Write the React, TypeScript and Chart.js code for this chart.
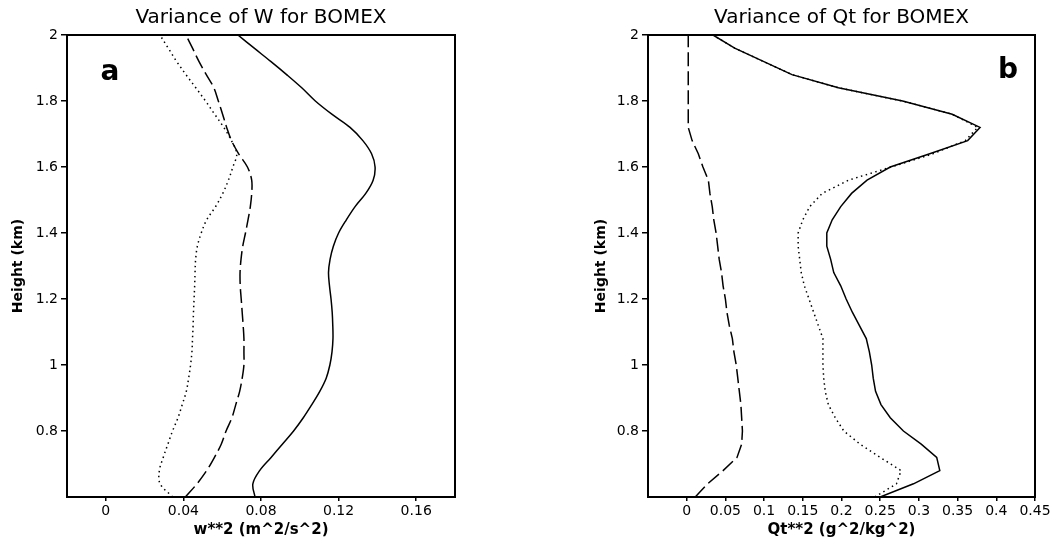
import React, { useEffect, useRef } from "react";
import { Chart, registerables } from "chart.js";

Chart.register(...registerables);

// Heights (km) shared by every profile
const heights = [
  0.6, 0.64, 0.68, 0.72, 0.76, 0.8, 0.84, 0.88, 0.92, 0.96, 1.0, 1.04, 1.08, 1.12, 1.16, 1.2, 1.24, 1.28,
  1.32, 1.36, 1.4, 1.44, 1.48, 1.52, 1.56, 1.6, 1.64, 1.68, 1.72, 1.76, 1.8, 1.84, 1.88, 1.92, 1.96, 2.0,
];

// Panel a: variance of W (m^2/s^2)
const wSolid = [
  0.0769, 0.0758, 0.0793, 0.0852, 0.091, 0.0968, 0.1018, 0.1062, 0.1103, 0.1136, 0.1155, 0.1166, 0.1171,
  0.117, 0.1167, 0.1161, 0.1153, 0.1148, 0.1156, 0.1173, 0.12, 0.124, 0.1285, 0.134, 0.1378, 0.1388, 0.137,
  0.1325, 0.1259, 0.1165, 0.108, 0.101, 0.0932, 0.085, 0.0765, 0.0681,
];
const wDashed = [
  0.041, 0.047, 0.052, 0.056, 0.0595, 0.062, 0.065, 0.067, 0.069, 0.0703, 0.0712, 0.0712, 0.0712, 0.0708,
  0.0703, 0.0698, 0.0693, 0.0692, 0.0697, 0.0706, 0.072, 0.0733, 0.0745, 0.0752, 0.0752, 0.073, 0.0685,
  0.0648, 0.0623, 0.0602, 0.058, 0.0557, 0.0518, 0.048, 0.0447, 0.0413,
];
const wDotted = [
  0.0345, 0.028, 0.0276, 0.0296, 0.032, 0.0344, 0.0372, 0.0394, 0.0415, 0.0427, 0.0437, 0.0444, 0.0447,
  0.045, 0.0452, 0.0455, 0.0458, 0.046, 0.0463, 0.0472, 0.0492, 0.052, 0.0566, 0.0603, 0.0632, 0.0655,
  0.0675, 0.0648, 0.0608, 0.0561, 0.0514, 0.0464, 0.0413, 0.0365, 0.0322, 0.0279,
];

// Panel b: variance of Qt (g^2/kg^2)
const qSolid = [
  0.25, 0.293, 0.327, 0.323, 0.303, 0.28, 0.263, 0.251, 0.244, 0.241, 0.239, 0.236, 0.232, 0.223, 0.214,
  0.206, 0.199, 0.19, 0.186, 0.181, 0.181, 0.188, 0.199, 0.213, 0.233, 0.263, 0.314, 0.363, 0.379, 0.343,
  0.279, 0.196, 0.136, 0.099, 0.062, 0.034,
];
const qDashed = [
  0.011, 0.027, 0.047, 0.065, 0.071, 0.072, 0.071, 0.07, 0.068, 0.066, 0.064, 0.061, 0.059, 0.055, 0.052,
  0.05, 0.047, 0.045, 0.042, 0.04, 0.038, 0.035, 0.033, 0.03, 0.028, 0.021, 0.015, 0.007, 0.002, 0.002,
  0.002, 0.002, 0.002, 0.002, 0.002, 0.002,
];
const qDotted = [
  0.243, 0.271, 0.277, 0.25, 0.224, 0.203, 0.192, 0.183, 0.179, 0.177, 0.176, 0.176, 0.176, 0.17, 0.164,
  0.158, 0.152, 0.148, 0.146, 0.144, 0.144, 0.15, 0.159, 0.175, 0.209, 0.264, 0.318, 0.36, 0.376, 0.343,
  0.279, 0.196, 0.136, 0.099, 0.062, 0.034,
];

// Tick labels
const yTicks = [0.8, 1, 1.2, 1.4, 1.6, 1.8, 2];
const wTicks = [0, 0.04, 0.08, 0.12, 0.16];
const qTicks = [0, 0.05, 0.1, 0.15, 0.2, 0.25, 0.3, 0.35, 0.4, 0.45];

const FONT = "'DejaVu Sans', 'Liberation Sans', sans-serif";

const fmt = (v: number) => String(Number(Number(v).toFixed(3)));

const pts = (vals: number[]) => heights.map((h, i) => ({ x: vals[i], y: h }));

type Panel = {
  title: string;
  letter: string;
  xTitle: string;
  xMin: number;
  xMax: number;
  xTicks: number[];
  solid: number[];
  dashed: number[];
  dotted: number[];
  padLeft: number;
  padRight: number;
  yWidth: number;
  letterDx: number;
  letterDy: number;
  tension: number;
};

const panelA: Panel = {
  title: "Variance of W for BOMEX",
  letter: "a",
  xTitle: "w**2 (m^2/s^2)",
  xMin: -0.02,
  xMax: 0.18,
  xTicks: wTicks,
  solid: wSolid,
  dashed: wDashed,
  dotted: wDotted,
  padLeft: 0,
  padRight: 73,
  yWidth: 67,
  letterDx: 43,
  letterDy: 45,
  tension: 0.35,
};

const panelB: Panel = {
  title: "Variance of Qt for BOMEX",
  letter: "b",
  xTitle: "Qt**2 (g^2/kg^2)",
  xMin: -0.05,
  xMax: 0.45,
  xTicks: qTicks,
  solid: qSolid,
  dashed: qDashed,
  dotted: qDotted,
  padLeft: 55,
  padRight: 21,
  yWidth: 65,
  letterDx: -27,
  letterDy: 43,
  tension: 0,
};

function makeConfig(p: Panel): any {
  const line = (vals: number[], dash: number[], width: number) => ({
    data: pts(vals),
    showLine: true,
    borderColor: "#000",
    backgroundColor: "#000",
    borderWidth: width,
    borderDash: dash,
    pointRadius: 0,
    pointHoverRadius: 0,
    tension: p.tension,
    fill: false,
  });

  const framePlugin = {
    id: "frame",
    afterDatasetsDraw(chart: any) {
      const { ctx, chartArea } = chart;
      ctx.save();
      ctx.strokeStyle = "#000";
      ctx.lineWidth = 2;
      ctx.strokeRect(chartArea.left, chartArea.top, chartArea.right - chartArea.left, chartArea.bottom - chartArea.top);
      ctx.restore();
    },
  };

  const letterPlugin = {
    id: "panelLetter",
    afterDraw(chart: any) {
      const { ctx, chartArea } = chart;
      ctx.save();
      ctx.fillStyle = "#000";
      ctx.font = `bold 28px ${FONT}`;
      ctx.textAlign = "center";
      ctx.textBaseline = "alphabetic";
      const x = p.letterDx >= 0 ? chartArea.left + p.letterDx : chartArea.right + p.letterDx;
      ctx.fillText(p.letter, x, chartArea.top + p.letterDy);
      ctx.restore();
    },
  };

  return {
    type: "scatter",
    data: {
      datasets: [line(p.solid, [], 1.5), line(p.dashed, [14, 5], 1.5), line(p.dotted, [1.5, 3.5], 1.5)],
    },
    plugins: [framePlugin, letterPlugin],
    options: {
      animation: false,
      responsive: false,
      devicePixelRatio: 1,
      events: [],
      layout: { padding: { left: p.padLeft, right: p.padRight, top: 0, bottom: 0 } },
      plugins: {
        legend: { display: false },
        tooltip: { enabled: false },
        title: {
          display: true,
          text: p.title,
          color: "#000",
          fullSize: false,
          font: { family: FONT, size: 20, weight: "normal" },
          padding: { top: 5.5, bottom: 5.5 },
        },
      },
      scales: {
        x: {
          type: "linear",
          position: "bottom",
          min: p.xMin,
          max: p.xMax,
          afterBuildTicks: (s: any) => {
            s.ticks = p.xTicks.map((v) => ({ value: v }));
          },
          afterFit: (s: any) => {
            s.height = 47;
          },
          grid: { drawOnChartArea: false, drawTicks: true, tickLength: 4, color: "#000", lineWidth: 1.5 },
          border: { display: false },
          ticks: {
            color: "#000",
            font: { family: FONT, size: 14 },
            padding: 2,
            maxRotation: 0,
            autoSkip: false,
            callback: (v: any) => fmt(v),
          },
          title: {
            display: true,
            text: p.xTitle,
            color: "#000",
            font: { family: FONT, size: 15, weight: "bold" },
            padding: { top: 0, bottom: 5 },
          },
        },
        y: {
          type: "linear",
          position: "left",
          min: 0.6,
          max: 2,
          afterBuildTicks: (s: any) => {
            s.ticks = yTicks.map((v) => ({ value: v }));
          },
          afterFit: (s: any) => {
            s.width = p.yWidth;
          },
          grid: { drawOnChartArea: false, drawTicks: true, tickLength: 6, color: "#000", lineWidth: 1.5 },
          border: { display: false },
          ticks: {
            color: "#000",
            font: { family: FONT, size: 14 },
            padding: 3,
            autoSkip: false,
            callback: (v: any) => fmt(v),
          },
          title: {
            display: true,
            text: "Height (km)",
            color: "#000",
            font: { family: FONT, size: 14, weight: "bold" },
            padding: { top: 10, bottom: 0 },
          },
        },
      },
    },
  };
}

function PanelChart({ panel, left }: { panel: Panel; left: number }) {
  const ref = useRef<HTMLCanvasElement | null>(null);
  useEffect(() => {
    if (!ref.current) return;
    const chart = new Chart(ref.current, makeConfig(panel));
    return () => chart.destroy();
  }, [panel]);
  return (
    <canvas
      ref={ref}
      width={528}
      height={544}
      style={{ position: "absolute", left, top: 0, width: 528, height: 544 }}
    />
  );
}

export default function App() {
  return (
    <div style={{ position: "absolute", left: 0, top: 0, width: 1056, height: 544, background: "#fff" }}>
      <PanelChart panel={panelA} left={0} />
      <PanelChart panel={panelB} left={528} />
    </div>
  );
}
